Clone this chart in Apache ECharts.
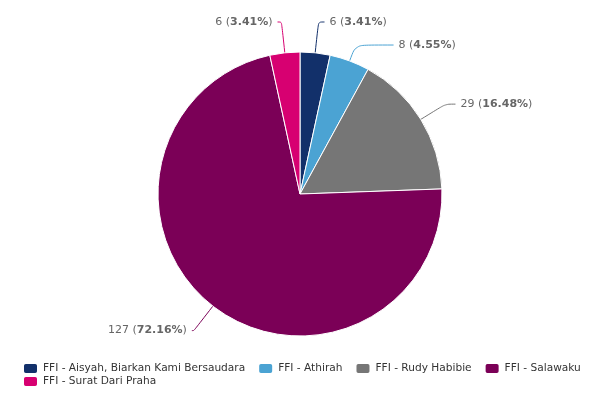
<!DOCTYPE html>
<html>
<head>
<meta charset="utf-8">
<script src="https://cdn.jsdelivr.net/npm/echarts@6/dist/echarts.min.js"></script>
<style>
  html, body { margin: 0; padding: 0; background: #fff; }
  #chart { width: 600px; height: 400px; }
</style>
</head>
<body>
<div id="chart"></div>
<script>
var names = [
  'FFI - Aisyah, Biarkan Kami Bersaudara',
  'FFI - Athirah',
  'FFI - Rudy Habibie',
  'FFI - Salawaku',
  'FFI - Surat Dari Praha'
]
var values = [6, 8, 29, 127, 6]
var colors = ['#12306a', '#4ba3d3', '#767676', '#7b0057', '#d70071']

var total = values.reduce(function (a, b) { return a + b }, 0)

// label line [length, length2] per slice
var lines = [[31, 6], [17, 38], [29, 10], [31, 2], [31, 4]]

var chart = echarts.init(document.getElementById('chart'))

var pieData = names.map(function (n, i) {
  return {
    name: n,
    value: values[i],
    labelLine: { length: lines[i][0], length2: lines[i][1] }
  }
})

chart.setOption({
  color: colors,
  textStyle: { fontFamily: 'DejaVu Sans' },
  legend: {
    left: 22,
    top: 362,
    right: -80,
    padding: 0,
    itemWidth: 15,
    itemHeight: 11,
    itemGap: 0,
    icon: 'roundRect',
    textStyle: { color: '#333', fontSize: 10.6, lineHeight: 13, padding: [0, 12, 0, 0] },
    data: names
  },
  series: [{
    type: 'pie',
    center: [300, 194],
    radius: 142,
    startAngle: 90,
    clockwise: true,
    data: pieData,
    itemStyle: { borderColor: '#fff', borderWidth: 1 },
    label: {
      color: '#666',
      fontSize: 11,
      formatter: function (p) {
        var pct = Math.round(p.value * 10000 / total) / 100
        return p.value + ' ({b|' + pct.toFixed(2) + '%})'
      },
      rich: {
        b: { fontWeight: 'bold', color: '#666', fontSize: 11 }
      }
    },
    labelLine: {
      smooth: 0.3
    }
  }]
})
</script>
</body>
</html>
